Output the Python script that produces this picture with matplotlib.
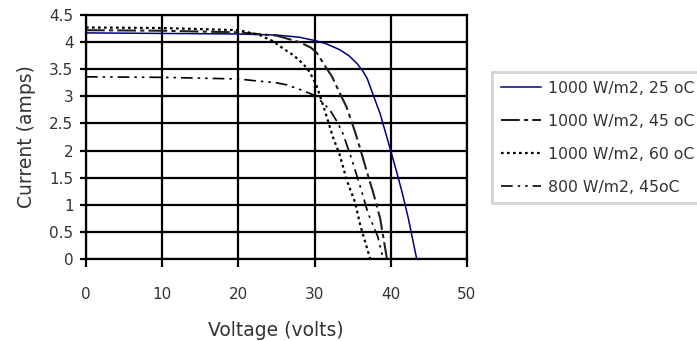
import matplotlib
matplotlib.use("Agg")
import matplotlib.pyplot as plt

# ---- data ----
v_25 = [0, 10, 20, 25, 28, 30, 31.5, 33.3, 34.5, 35.6, 36.3, 36.9, 37.7, 38.6, 39.7, 40.8, 41.5, 42.3, 43.4]
i_25 = [4.17, 4.16, 4.15, 4.13, 4.09, 4.03, 3.97, 3.86, 3.75, 3.60, 3.47, 3.33, 3.02, 2.68, 2.14, 1.59, 1.22, 0.75, 0.0]

v_45 = [0, 10, 20, 25, 28, 29.5, 30.3, 31.1, 32.3, 33.3, 34.2, 35.3, 36.1, 36.9, 37.7, 38.6, 39.5]
i_45 = [4.22, 4.21, 4.18, 4.12, 4.00, 3.90, 3.80, 3.62, 3.36, 3.06, 2.80, 2.35, 1.98, 1.59, 1.22, 0.75, 0.0]

v_60 = [0, 10, 20, 22.8, 24.5, 25.9, 27.2, 28.5, 29.3, 30.2, 31.2, 32.4, 33.3, 34.2, 35.3, 36.0, 37.3]
i_60 = [4.27, 4.26, 4.22, 4.13, 4.02, 3.88, 3.76, 3.60, 3.46, 3.22, 2.80, 2.25, 1.92, 1.46, 1.05, 0.62, 0.0]

v_800 = [0, 10, 20, 22, 25, 26.4, 28, 29.8, 31.1, 32, 33, 33.7, 34.9, 36, 37, 38.3, 39.0]
i_800 = [3.36, 3.35, 3.32, 3.29, 3.25, 3.21, 3.13, 3.03, 2.88, 2.75, 2.52, 2.32, 1.83, 1.33, 0.85, 0.41, 0.0]

labels = ["1000 W/m2, 25 oC", "1000 W/m2, 45 oC", "1000 W/m2, 60 oC", "800 W/m2, 45oC"]
x_ticks = [0, 10, 20, 30, 40, 50]
y_ticks = [0, 0.5, 1, 1.5, 2, 2.5, 3, 3.5, 4, 4.5]
y_ticklabels = ["0", "0.5", "1", "1.5", "2", "2.5", "3", "3.5", "4", "4.5"]

plt.rcParams['font.family'] = ['DejaVu Sans']
txt = '#333333'

fig = plt.figure(figsize=(6.97, 3.41), dpi=100)
ax = fig.add_axes([86/697, 1-259/341, (467-86)/697, (259-15)/341])

ax.plot(v_25, i_25, color='#000080', lw=1.1, ls='-', label=labels[0])
ax.plot(v_45, i_45, color='#202020', lw=1.5, ls=(0, (9, 2, 2, 2)), label=labels[1])
ax.plot(v_60, i_60, color='#000000', lw=1.6, ls=(0, (1.2, 1.5)), label=labels[2])
ax.plot(v_800, i_800, color='#000000', lw=1.2, ls=(0, (7, 3, 1.5, 3, 1.5, 3)), label=labels[3])

ax.set_xlim(0, 50)
ax.set_ylim(0, 4.5)
ax.set_xticks(x_ticks)
ax.set_yticks(y_ticks)
ax.set_yticklabels(y_ticklabels)
ax.grid(True, color='black', lw=1.6)
ax.set_axisbelow(True)
for s in ax.spines.values():
    s.set_color('black')
    s.set_linewidth(1.6)
ax.tick_params(axis='x', direction='out', length=6, width=1.6, pad=14,
               labelsize=11, labelcolor=txt)
ax.tick_params(axis='y', direction='out', length=4, width=1.6, pad=5,
               labelsize=11, labelcolor=txt)

fig.text(276/697, 1-330/341, "Voltage (volts)", ha='center', va='center',
         fontsize=13.5, color=txt)
fig.text(27/697, 1-137/341, "Current (amps)", ha='center', va='center',
         rotation=90, fontsize=13.5, color=txt)

leg = fig.legend(loc='upper left', bbox_to_anchor=(492/697, 1-72/341),
                 bbox_transform=fig.transFigure, borderaxespad=0,
                 fontsize=11.3, frameon=True, fancybox=False, framealpha=1,
                 handlelength=2.6, handletextpad=0.4, labelspacing=1.15,
                 borderpad=0.55)
leg.get_frame().set_edgecolor('#d4d4d4')
leg.get_frame().set_linewidth(2)
for t in leg.get_texts():
    t.set_color(txt)

fig.savefig("out.png", dpi=100)
